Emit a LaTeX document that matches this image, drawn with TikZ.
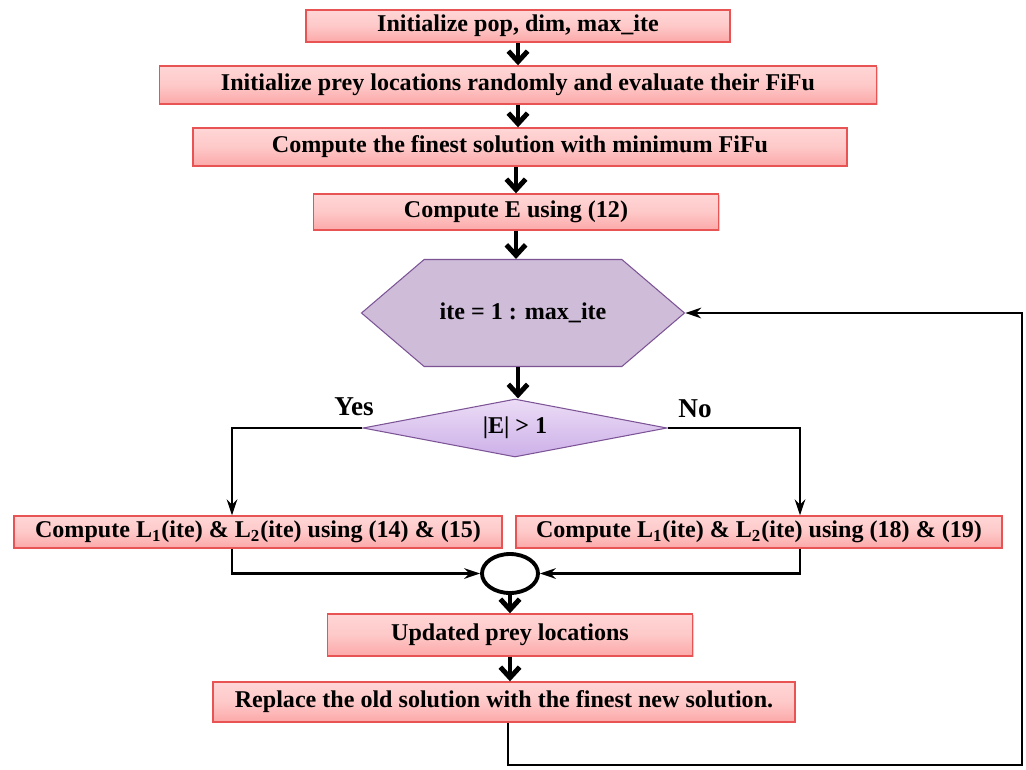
\documentclass[tikz,border=0pt]{standalone}
\usepackage{fontspec}
\setmainfont{Liberation Serif}
\usepackage{tikz}
\usetikzlibrary{shapes.geometric,shapes.symbols,arrows.meta,shadows,calc}
\definecolor{boxred}{RGB}{232,84,84}
\definecolor{boxtop}{RGB}{255,214,214}
\definecolor{boxbot}{RGB}{252,168,168}
\definecolor{hexfill}{RGB}{206,188,216}
\definecolor{hexdraw}{RGB}{124,84,150}
\definecolor{diatop}{RGB}{236,220,246}
\definecolor{diabot}{RGB}{204,176,232}

\begin{document}
\begin{tikzpicture}[font=\bfseries\fontsize{13.7}{15}\selectfont,
    block/.style={rectangle, draw=boxred, line width=0.8pt, top color=boxtop, bottom color=boxbot, middle color=boxtop!70!boxbot, inner sep=1pt, minimum height=0.64cm, drop shadow={opacity=0.35, shadow xshift=0.6pt, shadow yshift=-0.8pt}},
    loophex/.style={signal, signal to=west and east, signal pointer angle=81, draw=hexdraw, fill=hexfill, line width=0.6pt, minimum width=6.46cm, minimum height=2.14cm, inner sep=0pt},
    decision/.style={diamond, shape aspect=5.2, draw=hexdraw, line width=0.6pt, top color=diatop, bottom color=diabot, minimum width=6.08cm, minimum height=1.16cm, inner sep=0pt},
    merge/.style={ellipse, draw, line width=2.2pt, minimum width=1.12cm, minimum height=0.78cm, inner sep=0pt},
    bigarrow/.style={-{Straight Barb[length=6pt, width=11pt]}, line width=2.8pt},
    line/.style={-{Stealth[length=9pt, width=6pt]}, line width=1.6pt},
    lbl/.style={font=\bfseries\fontsize{15.5}{17}\selectfont}]
    \useasboundingbox (0,0) rectangle (20.52,-15.38);

    \node[block, minimum width=8.48cm] (init) at (10.36,-0.52) {Initialize pop, dim, max\_ite};
    \node[block, minimum width=14.34cm, minimum height=0.76cm] (prey) at (10.36,-1.70) {Initialize prey locations randomly and evaluate their FiFu};
    \node[block, minimum width=13.08cm, minimum height=0.76cm] (finest) at (10.40,-2.94) {Compute the finest solution with minimum FiFu};
    \node[block, minimum width=8.10cm, minimum height=0.72cm] (compE) at (10.32,-4.24) {Compute E using (12)};
    \node[loophex] (loop) at (10.46,-6.26) {ite = 1 : max\_ite};
    \node[decision] (test) at (10.30,-8.56) {|E| > 1};
    \node[block, minimum width=9.76cm] (yesbox) at (5.16,-10.64) {Compute L$_{\mathbf{1}}$(ite) \& L$_{\mathbf{2}}$(ite) using (14) \& (15)};
    \node[block, minimum width=9.72cm] (nobox) at (15.18,-10.64) {Compute L$_{\mathbf{1}}$(ite) \& L$_{\mathbf{2}}$(ite) using (18) \& (19)};
    \node[merge] (join) at (10.20,-11.47) {};
    \node[block, minimum width=7.30cm, minimum height=0.84cm] (update) at (10.20,-12.70) {Updated prey locations};
    \node[block, minimum width=11.64cm, minimum height=0.80cm] (replace) at (10.08,-14.04) {Replace the old solution with the finest new solution.};

    \node[lbl] (yes) at (7.08,-8.14) {Yes};
    \node[lbl] (no) at (13.90,-8.18) {No};

    \coordinate (yesturn) at (4.64,-8.56);
    \coordinate (noturn) at (16.00,-8.56);
    \coordinate (back1) at (10.16,-15.30);
    \coordinate (back2) at (20.44,-15.30);

    \draw[bigarrow] (init.south -| 10.36,0) -- (prey.north -| 10.36,0);
    \draw[bigarrow] (prey.south -| 10.36,0) -- (finest.north -| 10.36,0);
    \draw[bigarrow] (finest.south -| 10.32,0) -- (compE.north -| 10.32,0);
    \draw[bigarrow] (compE.south -| 10.32,0) -- (loop.north -| 10.32,0);
    \draw[bigarrow] (loop.south -| 10.36,0) -- (test.north -| 10.36,0);
    \draw[bigarrow] (join.south) -- (update.north -| join.south);
    \draw[bigarrow] (update.south -| join.south) -- (replace.north -| join.south);

    \draw[line] (test.west) -- (yesturn) -- (yesbox.north -| yesturn);
    \draw[line] (test.east) -- (noturn) -- (nobox.north -| noturn);
    \draw[line] (yesbox.south -| yesturn) |- (join.west);
    \draw[line] (nobox.south -| noturn) |- (join.east);
    \draw[line] (replace.south -| back1) -- (back1) -- (back2) |- (loop.east);
\end{tikzpicture}
\end{document}
